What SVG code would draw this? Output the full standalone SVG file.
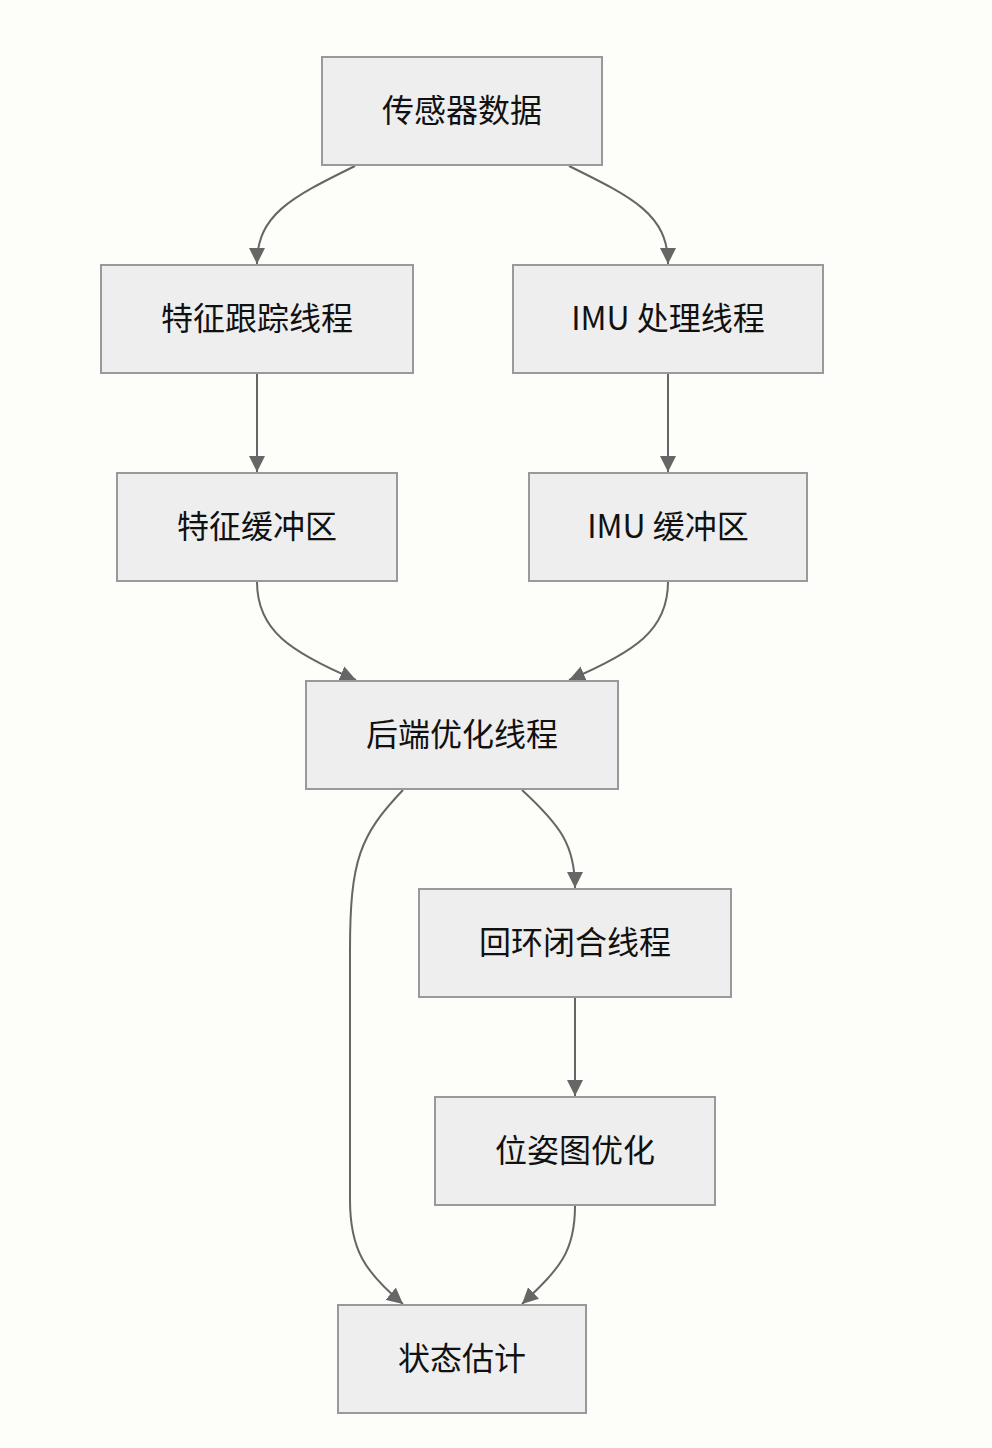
<svg xmlns="http://www.w3.org/2000/svg" width="992" height="1448" viewBox="0 0 992 1448">
<defs>
<style>
.node rect{fill:#eeeeee;stroke:#999999;stroke-width:2}
.node text{font-family:"Noto Sans CJK SC","Noto Sans",sans-serif;font-size:32px;fill:#111111;text-anchor:middle;dominant-baseline:central}
.edges path{fill:none;stroke:#666666;stroke-width:2}
</style>
<marker id="arr" viewBox="0 0 10 10" refX="10" refY="5" markerWidth="16" markerHeight="16" markerUnits="userSpaceOnUse" orient="auto">
<path d="M0,0 L10,5 L0,10 z" fill="#666666"/>
</marker>
</defs>
<rect width="992" height="1448" fill="#fdfdf9"/>
<g class="edges">
<path d="M355,166 C290,198 257,215 257,264" marker-end="url(#arr)"/>
<path d="M569,166 C634,198 668,215 668,264" marker-end="url(#arr)"/>
<path d="M257,374 L257,472" marker-end="url(#arr)"/>
<path d="M668,374 L668,472" marker-end="url(#arr)"/>
<path d="M257,582 C257,630 290,652 356,680" marker-end="url(#arr)"/>
<path d="M668,582 C668,630 635,652 569,680" marker-end="url(#arr)"/>
<path d="M522,790 C560,825 575,845 575,888" marker-end="url(#arr)"/>
<path d="M575,998 L575,1096" marker-end="url(#arr)"/>
<path d="M403,790 C360,835 350,860 350,950 L350,1200 C350,1250 365,1272 403,1304" marker-end="url(#arr)"/>
<path d="M575,1206 C575,1252 560,1268 522,1304" marker-end="url(#arr)"/>
</g>
<g id="n1" class="node"><rect x="322" y="57" width="280" height="108"/><text x="462" y="108">传感器数据</text></g>
<g id="n2" class="node"><rect x="101" y="265" width="312" height="108"/><text x="257" y="316">特征跟踪线程</text></g>
<g id="n3" class="node"><rect x="513" y="265" width="310" height="108"/><text x="668" y="316">IMU 处理线程</text></g>
<g id="n4" class="node"><rect x="117" y="473" width="280" height="108"/><text x="257" y="524">特征缓冲区</text></g>
<g id="n5" class="node"><rect x="529" y="473" width="278" height="108"/><text x="668" y="524">IMU 缓冲区</text></g>
<g id="n6" class="node"><rect x="306" y="681" width="312" height="108"/><text x="462" y="732">后端优化线程</text></g>
<g id="n7" class="node"><rect x="419" y="889" width="312" height="108"/><text x="575" y="940">回环闭合线程</text></g>
<g id="n8" class="node"><rect x="435" y="1097" width="280" height="108"/><text x="575" y="1148">位姿图优化</text></g>
<g id="n9" class="node"><rect x="338" y="1305" width="248" height="108"/><text x="462" y="1356">状态估计</text></g>
</svg>
